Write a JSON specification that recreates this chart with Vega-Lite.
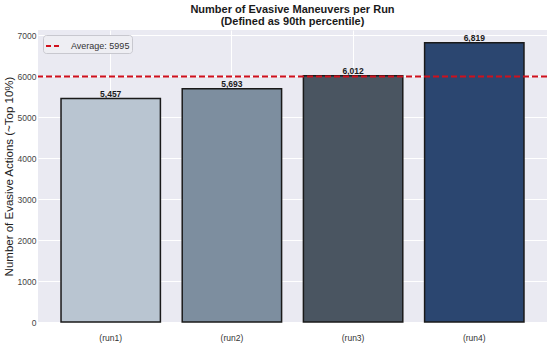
{
  "$schema": "https://vega.github.io/schema/vega-lite/v6.json",
  "width": 509,
  "height": 292,
  "autosize": {"type": "none"},
  "padding": {"left": 38, "top": 30, "right": 3, "bottom": 25},
  "background": "white",
  "config": {
    "font": "Liberation Sans",
    "view": {"fill": "#eaeaf2", "stroke": null}
  },
  "title": {
    "text": ["Number of Evasive Maneuvers per Run", "(Defined as 90th percentile)"],
    "fontSize": 11,
    "fontWeight": "bold",
    "color": "#1a1a1a",
    "anchor": "middle",
    "lineHeight": 12,
    "offset": 3
  },
  "data": {
    "values": [
      {"run": "(run1)", "value": 5457, "label": "5,457"},
      {"run": "(run2)", "value": 5693, "label": "5,693"},
      {"run": "(run3)", "value": 6012, "label": "6,012"},
      {"run": "(run4)", "value": 6819, "label": "6,819"}
    ]
  },
  "layer": [
    {
      "mark": {"type": "bar", "stroke": "#1a1a1a", "strokeWidth": 1.5},
      "encoding": {
        "x": {
          "field": "run",
          "type": "nominal",
          "sort": null,
          "scale": {"paddingInner": 0.18, "paddingOuter": 0.19},
          "axis": {
            "title": null,
            "labelAngle": 0,
            "labelFontSize": 8.5,
            "labelColor": "#333",
            "labelPadding": 11,
            "ticks": false,
            "domain": false,
            "grid": true,
            "gridColor": "white",
            "gridWidth": 1,
            "bandPosition": 0.5
          }
        },
        "y": {
          "field": "value",
          "type": "quantitative",
          "scale": {"domain": [0, 7130], "nice": false},
          "axis": {
            "title": "Number of Evasive Actions (~Top 10%)",
            "titleFontSize": 11.5,
            "titleFontWeight": "normal",
            "titleColor": "#222",
            "titlePadding": 3,
            "values": [0, 1000, 2000, 3000, 4000, 5000, 6000, 7000],
            "format": "d",
            "labelFontSize": 8.5,
            "labelColor": "#444",
            "labelPadding": 2,
            "ticks": false,
            "domain": false,
            "grid": true,
            "gridColor": "white",
            "gridWidth": 1
          }
        },
        "fill": {
          "field": "run",
          "type": "nominal",
          "scale": {
            "domain": ["(run1)", "(run2)", "(run3)", "(run4)"],
            "range": ["#b9c5d1", "#7d8e9f", "#4a5561", "#2b4670"]
          },
          "legend": null
        }
      }
    },
    {
      "mark": {"type": "text", "fontWeight": "bold", "fontSize": 8.5, "color": "#1a1a1a", "baseline": "alphabetic", "dy": -1.5},
      "encoding": {
        "x": {"field": "run", "type": "nominal", "sort": null},
        "y": {"field": "value", "type": "quantitative"},
        "text": {"field": "label"}
      }
    },
    {
      "data": {"values": [{"name": "Average: 5995", "avg": 5995}]},
      "mark": {"type": "rule", "strokeWidth": 2, "strokeDash": [6, 3]},
      "encoding": {
        "y": {"field": "avg", "type": "quantitative"},
        "stroke": {
          "field": "name",
          "type": "nominal",
          "scale": {"domain": ["Average: 5995"], "range": ["#d0101c"]},
          "legend": {
            "title": null,
            "orient": "top-left",
            "offset": 5,
            "padding": 2,
            "fillColor": "#eeeef3",
            "strokeColor": "#c8c8cf",
            "cornerRadius": 3,
            "symbolType": "stroke",
            "symbolSize": 256,
            "symbolStrokeWidth": 2,
            "symbolDash": [5, 3],
            "labelFontSize": 9,
            "labelColor": "#333",
            "labelOffset": 8
          }
        }
      }
    }
  ]
}
